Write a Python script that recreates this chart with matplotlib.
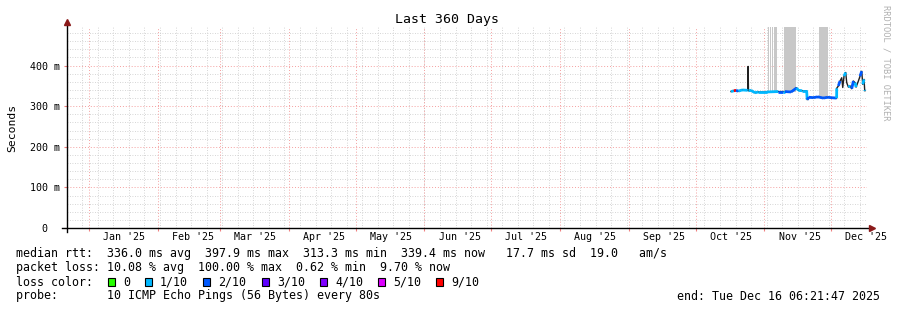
import matplotlib
matplotlib.use('Agg')
import matplotlib.pyplot as plt
import matplotlib.dates as mdates
from matplotlib.collections import LineCollection
from matplotlib.patches import Rectangle
import pandas as pd
import numpy as np

plt.rcParams['font.family'] = ['DejaVu Sans Mono']

# 时间范围 (360 天, 结束于 Dec 16 06:21:47 2025)
x_start = pd.Timestamp('2024-12-22 04:00')
x_end = pd.Timestamp('2025-12-17 04:00')

# 中位数 rtt (ms) 和丢包颜色等级
rtt_time = ['2025-10-17 00:00', '2025-10-18 06:00', '2025-10-19 06:00', '2025-10-20 06:00',
            '2025-10-22 00:00', '2025-10-24 12:00', '2025-10-24 16:00', '2025-10-24 20:00',
            '2025-10-26 00:00', '2025-10-27 18:00', '2025-10-29 06:00', '2025-11-02 00:00',
            '2025-11-07 06:00', '2025-11-09 12:00', '2025-11-10 06:00', '2025-11-13 00:00',
            '2025-11-15 12:00', '2025-11-16 06:00', '2025-11-18 00:00', '2025-11-20 00:00',
            '2025-11-20 06:00', '2025-11-21 00:00', '2025-11-23 00:00', '2025-11-25 00:00',
            '2025-11-27 12:00', '2025-11-29 12:00', '2025-12-01 00:00', '2025-12-03 12:00',
            '2025-12-03 13:00', '2025-12-04 07:00', '2025-12-05 01:00', '2025-12-05 19:00',
            '2025-12-06 06:00', '2025-12-06 20:00', '2025-12-07 14:00', '2025-12-08 01:00',
            '2025-12-08 19:00', '2025-12-09 13:00', '2025-12-10 07:00', '2025-12-11 01:00',
            '2025-12-11 19:00', '2025-12-12 06:00', '2025-12-13 07:00', '2025-12-14 01:00',
            '2025-12-14 19:00', '2025-12-15 06:00', '2025-12-15 20:00', '2025-12-16 03:00',
            '2025-12-16 06:00']
rtt_ms = [336, 338, 339, 337,
          340, 339, 397.9, 338,
          339, 333, 335, 335,
          336, 336, 336, 335,
          345, 339, 338, 338,
          316, 322, 321, 323,
          320, 322, 321, 320,
          344, 350, 362, 370,
          346, 374, 383, 358,
          347, 350, 343, 362,
          358, 347, 362, 374,
          386, 354, 366, 340,
          338]
loss_lvl = [1, 9, 2, 1,
            1, None, None, 1,
            1, 1, 1, 1,
            2, 1, 2, 2,
            1, 1, 1, 1,
            2, 2, 2, 2,
            2, 2, 2, 1,
            None, 2, None, None,
            None, 1, None, None,
            1, None, 2, None,
            1, None, None, 2,
            None, 1, None, 1,
            1]

# 100% 丢包 / 烟雾区间
smoke_start = ['2025-11-02 12:00', '2025-11-03 13:00', '2025-11-04 07:00', '2025-11-05 08:00',
               '2025-11-09 20:00', '2025-11-25 14:00', '2025-11-27 13:00']
smoke_end = ['2025-11-02 22:00', '2025-11-04 00:00', '2025-11-04 18:00', '2025-11-06 13:00',
             '2025-11-15 02:00', '2025-11-27 06:00', '2025-11-29 12:00']

loss_labels = ['0', '1/10', '2/10', '3/10', '4/10', '5/10', '9/10']
loss_colors = ['#26ff00', '#00b8ff', '#0059ff', '#5e00ff', '#7e00ff', '#dd00ff', '#ff0000']
lvl_color = {0: '#26ff00', 1: '#00b8ff', 2: '#0059ff', 3: '#5e00ff', 4: '#7e00ff',
             5: '#dd00ff', 9: '#ff0000'}

y_ticks = [0, 100, 200, 300, 400]
y_labels = ['0  ', '100 m', '200 m', '300 m', '400 m']
month_labels = ["Jan '25", "Feb '25", "Mar '25", "Apr '25", "May '25", "Jun '25",
                "Jul '25", "Aug '25", "Sep '25", "Oct '25", "Nov '25", "Dec '25"]

W, H = 897, 310
fig = plt.figure(figsize=(W / 100, H / 100), dpi=100)
ax = fig.add_axes([67 / W, 82 / H, 800 / W, 201 / H])
ax.set_xlim(x_start, x_end)
ax.set_ylim(0, 495)

# 网格
months = pd.date_range('2025-01-01', '2025-12-01', freq='MS')
weeks = pd.date_range('2024-12-22', '2025-12-14', freq='W-SUN')
for w in weeks:
    ax.axvline(w, color='#c8c8c8', lw=0.6, ls=(0, (1, 2)), zorder=0)
for yy in range(20, 495, 20):
    if yy % 100:
        ax.axhline(yy, color='#c8c8c8', lw=0.6, ls=(0, (1, 2)), zorder=0)
for m in months:
    ax.axvline(m, color='#f4a0a0', lw=0.7, ls=(0, (1, 2)), zorder=0)
for yy in y_ticks[1:]:
    ax.axhline(yy, color='#f4a0a0', lw=0.7, ls=(0, (1, 2)), zorder=0)

# 烟雾
t = pd.to_datetime(rtt_time)
tn = mdates.date2num(t)
for s, e in zip(smoke_start, smoke_end):
    s, e = pd.Timestamp(s), pd.Timestamp(e)
    base = np.interp(mdates.date2num(s), tn, rtt_ms)
    ax.add_patch(Rectangle((mdates.date2num(s), base), mdates.date2num(e) - mdates.date2num(s),
                           600, color='#c8c8c8', lw=0, zorder=1))

# 中位数线
ax.plot(t, rtt_ms, color='#202020', lw=1.0, zorder=2)
segs, cols = [], []
for i in range(len(tn) - 1):
    if loss_lvl[i] is not None:
        segs.append([(tn[i], rtt_ms[i]), (tn[i + 1], rtt_ms[i + 1])])
        cols.append(lvl_color[loss_lvl[i]])
ax.add_collection(LineCollection(segs, colors=cols, linewidths=2.0, zorder=3, capstyle='butt'))

# 坐标轴
for sp in ax.spines.values():
    sp.set_visible(False)
ax.plot([-0.006, 1.003], [0, 0], transform=ax.transAxes, color='#000000', lw=1.0, clip_on=False, zorder=5)
ax.plot([0, 0], [-0.02, 1.02], transform=ax.transAxes, color='#000000', lw=1.0, clip_on=False, zorder=5)
ax.plot([1.006], [0], marker='>', ms=4, color='#8b1a1a', transform=ax.transAxes, clip_on=False, zorder=6)
ax.plot([0], [1.025], marker='^', ms=4, color='#8b1a1a', transform=ax.transAxes, clip_on=False, zorder=6)

ax.set_yticks(y_ticks)
ax.set_yticklabels(y_labels)
ax.set_xticks(months)
ax.set_xticklabels([])
ax.set_xticks(months + pd.Timedelta(hours=15 * 24 + 19), minor=True)
ax.set_xticklabels(month_labels, minor=True)
ax.tick_params(axis='x', which='major', length=2, width=0.8, color='#f08080', direction='out')
ax.tick_params(axis='x', which='minor', length=0, pad=3, labelsize=7.2, colors='#000000')
ax.tick_params(axis='y', length=2, width=0.8, pad=3, labelsize=7.2, color='#f08080')

ax.set_ylabel('Seconds', fontsize=8.2)
ax.yaxis.set_label_coords(-0.062, 0.5)

fig.text(447 / W, 1 - 19 / H, 'Last 360 Days', ha='center', va='center', fontsize=9.5)
fig.text(886 / W, 1 - 5 / H, 'RRDTOOL / TOBI OETIKER', rotation=-90, ha='center', va='top',
         fontsize=6.3, color='#b0b0b0')

# 图例文字
fs = 8.4
fig.text(16 / W, 1 - 254 / H, 'median rtt:  336.0 ms avg  397.9 ms max  313.3 ms min  339.4 ms now   17.7 ms sd  19.0   am/s',
         ha='left', va='center', fontsize=fs)
fig.text(16 / W, 1 - 268 / H, 'packet loss: 10.08 % avg  100.00 % max  0.62 % min  9.70 % now',
         ha='left', va='center', fontsize=fs)
fig.text(16 / W, 1 - 282 / H, 'loss color:', ha='left', va='center', fontsize=fs)
sq_x = [108, 145, 203, 262, 320, 378, 436]
for x0, lab, c in zip(sq_x, loss_labels, loss_colors):
    fig.patches.append(Rectangle((x0 / W, 1 - 286 / H), 7 / W, 8 / H, transform=fig.transFigure,
                                 facecolor=c, edgecolor='#000000', lw=0.8))
    fig.text((x0 + 15) / W, 1 - 282 / H, lab, ha='left', va='center', fontsize=fs)
fig.text(16 / W, 1 - 296 / H, 'probe:       10 ICMP Echo Pings (56 Bytes) every 80s',
         ha='left', va='center', fontsize=fs)
fig.text(880 / W, 1 - 296 / H, 'end: Tue Dec 16 06:21:47 2025', ha='right', va='center', fontsize=fs)

fig.savefig('out.png', dpi=100)
